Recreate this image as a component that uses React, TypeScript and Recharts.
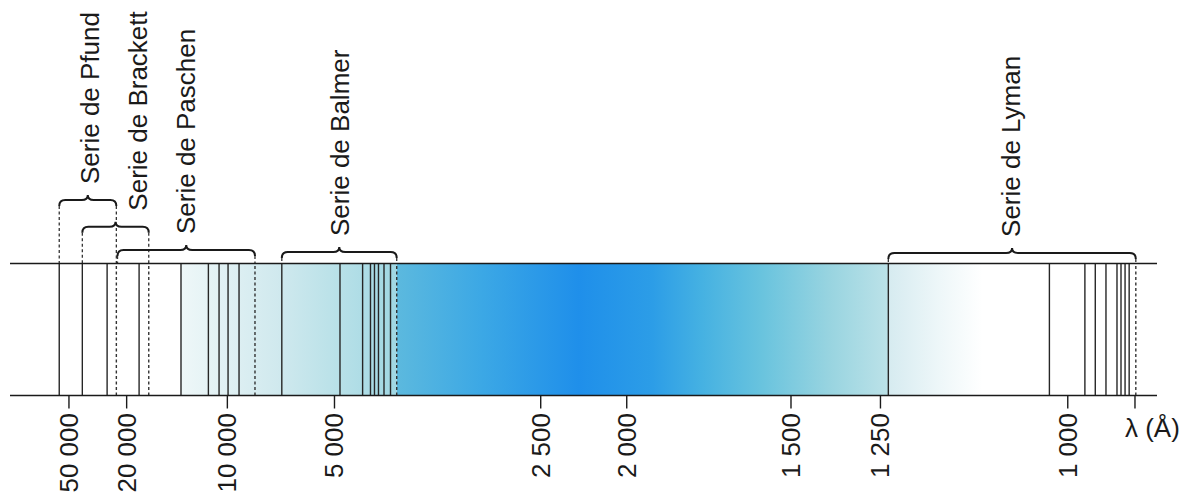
import { ComposedChart, XAxis, YAxis, ReferenceLine, ReferenceArea } from 'recharts';

// axis ticks (wavelength in Å) and where the printed, non-uniform axis puts them (% of axis length)
const TICK_WAVELENGTHS = [50000, 20000, 10000, 5000, 2500, 2000, 1500, 1250, 1000, 912];
const TICK_LABELS = ['50 000', '20 000', '10 000', '5 000', '2 500', '2 000', '1 500', '1 250', '1 000', 'λ (Å)'];
const AXIS_STOPS = [5.14, 10.17, 18.95, 28.29, 46.27, 53.77, 68.09, 75.89, 92.22, 98.08];

// spectral lines (Å)
const PFUND_LINES = [66900];
const BRACKETT_LINES = [37100, 25100, 17800];
const PASCHEN_LINES = [12990, 11040, 10430, 9935, 9017];
const BALMER_LINES = [6630, 4870, 4400, 4257, 4188, 4121, 4032, 3932];
const LYMAN_LINES = [1237, 1020, 976, 962, 948, 934, 929, 924, 919];
const SERIES_LIMITS = [22400, 16400, 7950, 3841, 911];

// series brackets
const SERIES_NAMES = ['Serie de Pfund', 'Serie de Brackett', 'Serie de Paschen', 'Serie de Balmer', 'Serie de Lyman'];
const SERIES_FROM = [66900, 37100, 22100, 6630, 1237];
const SERIES_TO = [22400, 16400, 7950, 3841, 911];

// coloured continuum bands (Å)
const BAND_EDGES = [12990, 3841, 1237, 1100];

const W = 1190;
const H = 492;
const FONT = '"Liberation Sans", Arial, Helvetica, sans-serif';
const BRACKET_LEVEL = [1.481, 1.279, 1.102, 1.087, 1.08];
const LABEL_DX = [2, 22, 0, 1, -1];

const ALL_LINES = [...PFUND_LINES, ...BRACKETT_LINES, ...PASCHEN_LINES, ...BALMER_LINES, ...LYMAN_LINES];

// piecewise-linear in 1/λ between the printed ticks
function toAxis(lambda: number) {
  const s = 1 / lambda;
  const sig = TICK_WAVELENGTHS.map((l) => 1 / l);
  let i = 0;
  while (i < sig.length - 2 && s > sig[i + 1]) i++;
  const t = (s - sig[i]) / (sig[i + 1] - sig[i]);
  return AXIS_STOPS[i] + t * (AXIS_STOPS[i + 1] - AXIS_STOPS[i]);
}

const chartData = TICK_WAVELENGTHS.map((l, i) => ({ x: toAxis(l), y: i % 2 }));

const GRADIENTS = [
  [
    [0, '#eef7f8'],
    [0.45, '#d0e9ee'],
    [0.72, '#b9e1e8'],
    [1, '#a0d7e3'],
  ],
  [
    [0, '#5cb9de'],
    [0.17, '#3ca8e5'],
    [0.37, '#1f8fea'],
    [0.52, '#2c9de7'],
    [0.62, '#45b1e2'],
    [0.74, '#68c3de'],
    [0.88, '#98d4e0'],
    [1, '#bce2e8'],
  ],
  [
    [0, '#d6ebf0'],
    [0.55, '#eef7f9'],
    [1, '#ffffff'],
  ],
];

function Band(props: any) {
  const { x, y, width, height, idx } = props;
  const id = `band-${idx}`;
  return (
    <g>
      <defs>
        <linearGradient id={id} x1="0" y1="0" x2="1" y2="0">
          {GRADIENTS[idx].map(([o, c]: any, k: number) => (
            <stop key={k} offset={o} stopColor={c} />
          ))}
        </linearGradient>
      </defs>
      <rect x={x} y={y} width={width} height={height} fill={`url(#${id})`} />
    </g>
  );
}

function Brace(props: any) {
  const { x, y, width, height, idx } = props;
  const x2 = x + width;
  const mid = x + width / 2;
  const h = 6;
  const d = `M${x},${y + h} Q${x},${y} ${x + h},${y} L${mid - h},${y} Q${mid},${y} ${mid},${y - 5} Q${mid},${y} ${mid + h},${y} L${x2 - h},${y} Q${x2},${y} ${x2},${y + h}`;
  return (
    <g>
      <line x1={x} y1={y + h} x2={x} y2={y + height} stroke="#333" strokeWidth={1.3} strokeDasharray="3 2.5" />
      <line x1={x2} y1={y + h} x2={x2} y2={y + height} stroke="#333" strokeWidth={1.3} strokeDasharray="3 2.5" />
      <path d={d} fill="none" stroke="#1a1a1a" strokeWidth={2} />
      <text
        transform={`translate(${mid + LABEL_DX[idx] + 9},${y - 16}) rotate(-90)`}
        textAnchor="start"
        fontFamily={FONT}
        fontSize={26}
        fill="#1a1a1a"
      >
        {SERIES_NAMES[idx]}
      </text>
    </g>
  );
}

function WavelengthTick(props: any) {
  const { x, y, index } = props;
  if (index === TICK_LABELS.length - 1) {
    return (
      <text x={x - 10} y={y + 26.5} fontFamily={FONT} fontSize={26} fill="#1a1a1a">
        {TICK_LABELS[index]}
      </text>
    );
  }
  return (
    <text
      transform={`translate(${x + 9},${y + 2.5}) rotate(-90)`}
      textAnchor="end"
      fontFamily={FONT}
      fontSize={26}
      fill="#1a1a1a"
    >
      {TICK_LABELS[index]}
    </text>
  );
}

export default function App() {
  return (
    <div style={{ position: 'absolute', left: 0, top: 0, width: W, height: H, background: '#fff' }}>
      <ComposedChart width={W} height={H} data={chartData} margin={{ top: 263.5, right: 33, bottom: 66.5, left: 10 }}>
        <XAxis
          type="number"
          dataKey="x"
          domain={[0, 100]}
          allowDataOverflow
          ticks={TICK_WAVELENGTHS.map(toAxis)}
          interval={0}
          tick={<WavelengthTick />}
          tickSize={13}
          height={30}
          axisLine={{ stroke: '#1a1a1a', strokeWidth: 1.6 }}
          tickLine={{ stroke: '#1a1a1a', strokeWidth: 1.4 }}
        />
        <YAxis type="number" dataKey="y" domain={[0, 1]} allowDataOverflow hide width={0} />
        {BAND_EDGES.slice(0, -1).map((edge, i) => (
          <ReferenceArea
            key={`band-${i}`}
            x1={toAxis(edge)}
            x2={toAxis(BAND_EDGES[i + 1])}
            y1={0}
            y2={1}
            ifOverflow="visible"
            shape={(p: any) => <Band {...p} idx={i} />}
          />
        ))}
        {ALL_LINES.map((l, i) => (
          <ReferenceLine key={`line-${i}`} x={toAxis(l)} stroke="#262626" strokeWidth={1.4} />
        ))}
        {SERIES_LIMITS.map((l, i) => (
          <ReferenceLine key={`lim-${i}`} x={toAxis(l)} stroke="#333" strokeWidth={1.4} strokeDasharray="3 2.5" />
        ))}
        {SERIES_NAMES.map((name, i) => (
          <ReferenceArea
            key={name}
            x1={toAxis(SERIES_FROM[i])}
            x2={toAxis(SERIES_TO[i])}
            y1={1}
            y2={BRACKET_LEVEL[i]}
            ifOverflow="visible"
            shape={(p: any) => <Brace {...p} idx={i} />}
          />
        ))}
        <ReferenceLine y={1} stroke="#1a1a1a" strokeWidth={1.6} />
      </ComposedChart>
    </div>
  );
}
